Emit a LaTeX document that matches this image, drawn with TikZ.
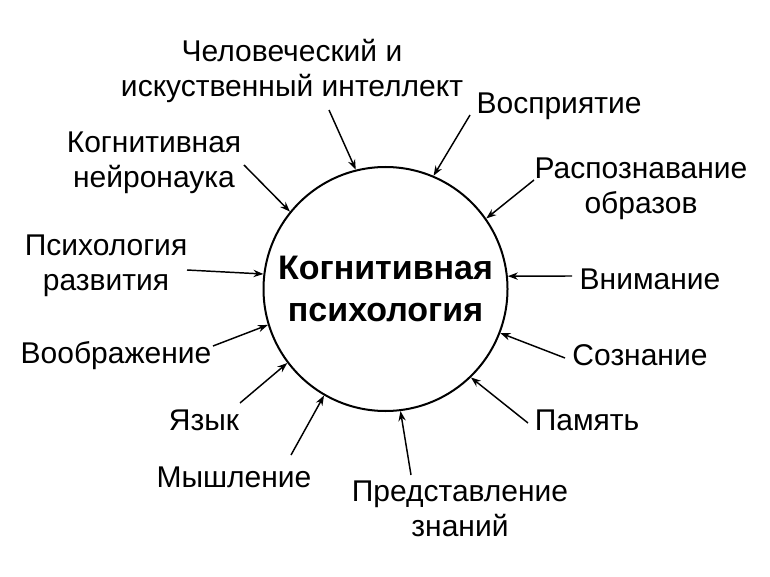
\documentclass[tikz,border=0pt]{standalone}
\usepackage{fontspec}
\setmainfont{Liberation Sans}
\usetikzlibrary{arrows.meta}

\begin{document}
\begin{tikzpicture}[x=0.75pt,y=-0.75pt,>={Stealth[length=7.5pt,width=5.5pt]}]
    \tikzstyle{topic}=[align=center,inner sep=0pt,font=\fontsize{22.5pt}{26.25pt}\selectfont]
    \tikzstyle{hub}=[circle,draw,line width=1.5pt,minimum size=183pt,inner sep=0pt,align=center,font=\bfseries\fontsize{25.5pt}{31.5pt}\selectfont]
    \tikzstyle{feed}=[->,line width=1.1pt]

    \useasboundingbox (0,0) rectangle (770,577);

    % Draw the central circle
    \node[hub] (cog) at (385.5,289) {Когнитивная\\психология};

    % Draw the topics around it
    \foreach \name/\x/\y/\txt in {
        ai/292/71/{Человеческий и\\искуственный интеллект},
        perc/559/106/{Восприятие},
        neuro/154/163/{Когнитивная\\нейронаука},
        pattern/641/189/{Распознавание\\образов},
        devel/106/266/{Психология\\развития},
        attn/650/279/{Внимание},
        imag/116/356/{Воображение},
        consc/640/355/{Сознание},
        lang/204/420/{Язык},
        mem/587/420/{Память},
        think/234/477/{Мышление},
        know/460/509/{Представление\\знаний}}
        \node[topic] (\name) at (\x,\y) {\txt};

    % Connect every topic with the circle
    \foreach \name/\x/\y/\ang in {
        ai/329/110/104.8, perc/470/115/67.5, neuro/244/165/141.7,
        pattern/534/180/35.3, devel/187/270/173.6, attn/572/276/6,
        imag/213/346/197.5, consc/565/358/-21.4, lang/240/403/217.4,
        mem/528/423/-46, think/291/455/240.4, know/411/475/-83.3}
    {
        \coordinate (\name-s) at (\x,\y);
        \draw[feed] (\name-s) -- (cog.\ang);
    }
\end{tikzpicture}
\end{document}
